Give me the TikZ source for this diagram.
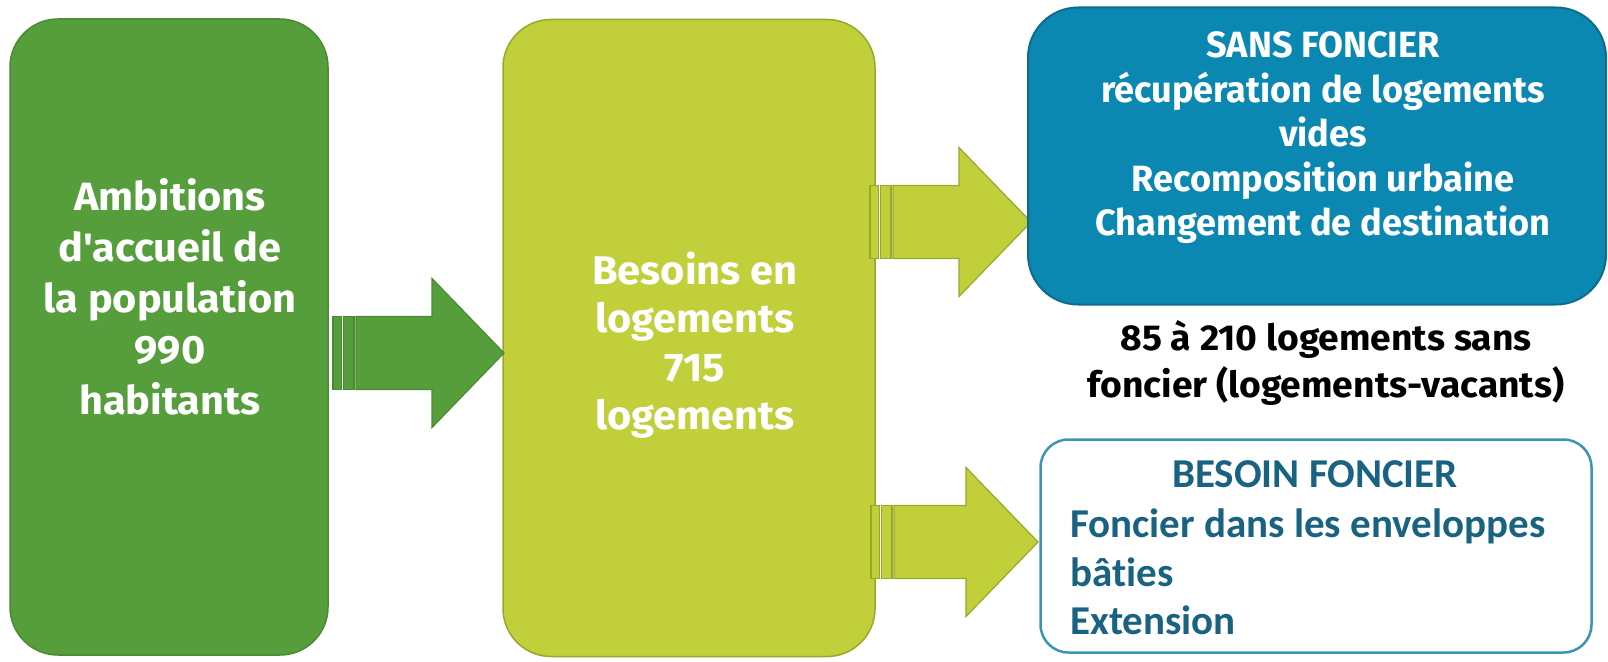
\documentclass[tikz,border=0pt]{standalone}
\usepackage{fontspec}
\setmainfont{Fira Sans}
\newfontfamily\wideafont{Fira Sans}[FakeStretch=1.05]
\newfontfamily\widebfont{Fira Sans}[FakeStretch=1.04]
\newfontfamily\bluefont{Fira Sans}[FakeStretch=0.99]
\newfontfamily\blackfont{Fira Sans}[FakeStretch=1.035]
\newfontfamily\calfont{Carlito}[Ligatures=NoCommon]
\usetikzlibrary{calc}
\definecolor{dgreen}{HTML}{559E3B}
\definecolor{dgreenline}{HTML}{4A8A33}
\definecolor{lgreen}{HTML}{C0CF3A}
\definecolor{lgreenline}{HTML}{98A82C}
\definecolor{sblue}{HTML}{0B88B2}
\definecolor{sblueline}{HTML}{0D6B8C}
\definecolor{fblue}{HTML}{3A94B5}
\definecolor{ftext}{HTML}{1A6282}
\newcommand\blkarrow[5]{%
  \filldraw[fill=#4,draw=#5,line width=1.2pt] (#1,#2-36.5) rectangle (#1+8.5,#2+36.5);
  \filldraw[fill=#4,draw=#5,line width=1.2pt] (#1+10.5,#2-36.5) rectangle (#1+21,#2+36.5);
  \filldraw[fill=#4,draw=#5,line width=1.2pt,line join=miter] (#1+23,#2-36.5) -- (#3-72,#2-36.5) -- (#3-72,#2-74.5) -- (#3,#2) -- (#3-72,#2+74.5) -- (#3-72,#2+36.5) -- (#1+23,#2+36.5) -- cycle;}
\begin{document}
\begin{tikzpicture}[x=1pt,y=-1pt,
  bigbox/.style={rounded corners=48pt,inner sep=0pt,line width=1.5pt},
  whitetxt/.style={text=white,align=center,font=\bfseries},
]
\useasboundingbox (0,0) rectangle (1608,661);
% left box
\node[bigbox,fill=dgreen,draw=dgreenline,minimum width=318pt,minimum height=636pt] (amb) at (169,337) {};
\node[whitetxt,font=\wideafont\fontsize{39.5}{51}\selectfont\bfseries] (ambt) at (170,297) {Ambitions\\d\char"0027accueil de\\la population\\990\\habitants};
% middle box
\node[bigbox,fill=lgreen,draw=lgreenline,minimum width=372pt,minimum height=637pt] (bes) at (689,338) {};
\node[whitetxt,font=\widebfont\fontsize{40}{48.5}\selectfont\bfseries] (best) at (695,345) {Besoins en\\logements\\715\\logements};
% arrows
\blkarrow{333}{353}{504}{dgreen}{dgreenline}
\blkarrow{870}{222}{1031}{lgreen}{lgreenline}
\blkarrow{871}{542}{1038}{lgreen}{lgreenline}
% blue box
\node[bigbox,rounded corners=50pt,fill=sblue,draw=sblueline,line width=2pt,minimum width=578pt,minimum height=297pt] (sans) at (1317,156) {};
\node[whitetxt,font=\bluefont\fontsize{36.5}{44.5}\selectfont\bfseries] (sanst) at (1323,138) {SANS FONCIER\\récupération de logements\\vides\\Recomposition urbaine\\Changement de destination};
% black text
\node[align=center,font=\blackfont\fontsize{36}{46.5}\selectfont\bfseries] (vac) at (1326,363) {85 à 210 logements sans\\foncier (logements-vacants)};
% lower box
\node[rounded corners=28pt,inner sep=0pt,fill=white,draw=fblue,line width=2.5pt,minimum width=551pt,minimum height=213pt] (bf) at (1316,546) {};
\node[font=\calfont\fontsize{41}{48.5}\selectfont\bfseries,text=ftext] (bft) at (1315,474) {BESOIN FONCIER};
\node[font=\calfont\fontsize{41}{48.5}\selectfont\bfseries,text=ftext,align=left,anchor=west,inner xsep=0pt] (bfl) at (1070,572) {Foncier dans les enveloppes\\bâties\\Extension};
\end{tikzpicture}
\end{document}
